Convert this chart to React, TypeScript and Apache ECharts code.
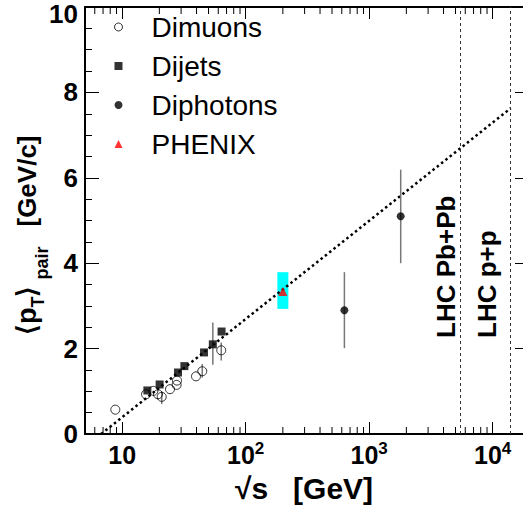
import React, { useEffect, useRef } from "react";
import * as echarts from "echarts";

const FONT = "'Liberation Sans', Arial, Helvetica, sans-serif";

// Data
const dimuonX = [8.8, 15.6, 17.9, 19.5, 20.9, 24.4, 27.6, 27.8, 39.6, 44.5, 63.4];
const dimuonY = [0.57, 0.93, 1.01, 0.93, 0.87, 1.05, 1.15, 1.25, 1.35, 1.47, 1.96];

const dijetX = [16.0, 20.1, 28.3, 31.9, 46.0, 54.2, 63.8];
const dijetY = [1.02, 1.16, 1.44, 1.59, 1.91, 2.1, 2.4];

const diphotonX = [630, 1800];
const diphotonY = [2.9, 5.1];

const phenixX = [200];
const phenixY = [3.34];
const phenixSysLo = [2.93];
const phenixSysHi = [3.79];

const errX = [20.9, 44.5, 54.2, 63.4, 630, 1800];
const errLo = [0.7, 1.32, 1.62, 1.72, 2.01, 4.0];
const errHi = [1.0, 1.64, 2.61, 2.14, 3.79, 6.19];

const fitX = [6.75, 14000];
const fitY = [0, 7.63];

const lhcX = [5500, 14000];
const lhcLabels = ["LHC Pb+Pb", "LHC p+p"];
const lhcLabelOffset = [-15, -24];

const xMinorTicks = [
  6, 7, 8, 9, 20, 30, 40, 50, 60, 70, 80, 90, 200, 300, 400, 500, 600, 700, 800, 900,
  2000, 3000, 4000, 5000, 6000, 7000, 8000, 9000,
];

const legendNames = ["Dimuons", "Dijets", "Diphotons", "PHENIX"];

export default function App() {
  const ref = useRef<HTMLDivElement>(null);

  useEffect(() => {
    if (!ref.current) return;
    const chart = echarts.init(ref.current, undefined, { renderer: "svg" });

    const axisLineStyle = { color: "#000", width: 2 };
    const tickStyle = { color: "#000", width: 1 };
    const X_MIN = 5;
    const X_MAX = 17600;
    const yLabelStyle = { fontFamily: FONT, fontSize: 26, fontWeight: "bold", color: "#000" };

    const option: any = {
      animation: false,
      grid: { left: 85, right: 0, top: 7, bottom: 79, containLabel: false },
      legend: {
        orient: "vertical",
        left: 109,
        top: 8,
        itemWidth: 8,
        itemHeight: 8,
        itemGap: 11,
        selectedMode: false,
        textStyle: {
          fontFamily: FONT,
          fontSize: 28,
          color: "#000",
          lineHeight: 25,
          padding: [0, 0, 0, 24],
        },
        data: [
          {
            name: legendNames[0],
            icon: "circle",
            itemStyle: { color: "rgba(0,0,0,0)", borderColor: "#000", borderWidth: 1 },
          },
          { name: legendNames[1], icon: "rect", itemStyle: { color: "#000" } },
          { name: legendNames[2], icon: "circle", itemStyle: { color: "#000" } },
          { name: legendNames[3], icon: "triangle", itemStyle: { color: "#ff0000" } },
        ],
      },
      xAxis: [
        {
          type: "log",
          logBase: 10,
          min: X_MIN,
          max: X_MAX,
          position: "bottom",
          name: "\u221As   [GeV]",
          nameLocation: "middle",
          nameGap: 39,
          nameTextStyle: { fontFamily: FONT, fontSize: 30, fontWeight: "bold", color: "#000" },
          axisLine: { show: true, onZero: false, lineStyle: axisLineStyle },
          axisTick: { show: true, inside: true, length: 12, lineStyle: tickStyle },
          minorTick: { show: false },
          splitLine: { show: false },
          axisLabel: {
            showMinLabel: false,
            showMaxLabel: false,
            margin: 6,
            formatter: (v: number) => {
              const e = Math.round(Math.log10(v));
              return e === 1 ? "{b|10}" : `{b|10}{s|${e}}`;
            },
            rich: {
              b: {
                fontFamily: FONT,
                fontSize: 25,
                fontWeight: "bold",
                color: "#000",
                lineHeight: 27,
                verticalAlign: "bottom",
              },
              s: {
                fontFamily: FONT,
                fontSize: 17,
                fontWeight: "bold",
                color: "#000",
                verticalAlign: "top",
              },
            },
          },
        },
        {
          type: "log",
          logBase: 10,
          min: X_MIN,
          max: X_MAX,
          position: "top",
          axisLine: { show: true, onZero: false, lineStyle: axisLineStyle },
          axisTick: { show: true, inside: true, length: 12, lineStyle: tickStyle },
          minorTick: { show: false },
          splitLine: { show: false },
          axisLabel: { show: false },
        },
      ],
      yAxis: [
        {
          type: "value",
          min: 0,
          max: 10,
          interval: 2,
          axisLine: { show: true, onZero: false, lineStyle: axisLineStyle },
          axisTick: { show: true, inside: true, length: 14, lineStyle: tickStyle },
          minorTick: { show: true, splitNumber: 4, length: 7, lineStyle: tickStyle },
          splitLine: { show: false },
          axisLabel: {
            margin: 7,
            formatter: (v: number) => (v === 10 ? `{t|${v}}` : `{n|${v}}`),
            rich: {
              n: { ...yLabelStyle },
              t: { ...yLabelStyle, verticalAlign: "top", padding: [14, 0, 0, 0] },
            },
          },
        },
        {
          type: "value",
          min: 0,
          max: 10,
          interval: 2,
          position: "right",
          axisLine: { show: false, onZero: false },
          axisTick: { show: true, inside: true, length: 8, lineStyle: tickStyle },
          minorTick: { show: false },
          splitLine: { show: false },
          axisLabel: { show: false },
        },
      ],
      series: [
        {
          type: "custom",
          name: "PHENIX sys",
          silent: true,
          z: 1,
          data: phenixX.map((x, i) => [x, phenixSysLo[i], phenixSysHi[i]]),
          renderItem: (_p: any, api: any) => {
            const lo = api.coord([api.value(0), api.value(1)]);
            const hi = api.coord([api.value(0), api.value(2)]);
            return {
              type: "rect",
              shape: { x: lo[0] - 5.5, y: hi[1], width: 11, height: lo[1] - hi[1] },
              style: { fill: "#00ffff" },
            };
          },
        },
        {
          type: "line",
          name: "fit",
          silent: true,
          z: 2,
          data: fitX.map((x, i) => [x, fitY[i]]),
          symbol: "none",
          lineStyle: { color: "#000", width: 2.5, type: [2.5, 3] },
          markLine: {
            silent: true,
            symbol: "none",
            label: { show: false },
            lineStyle: { color: "#333", width: 1, type: [3, 3] },
            data: lhcX.map((x) => ({ xAxis: x })),
          },
        },
        {
          type: "custom",
          name: "errors",
          silent: true,
          z: 3,
          data: errX.map((x, i) => [x, errLo[i], errHi[i]]),
          renderItem: (_p: any, api: any) => {
            const lo = api.coord([api.value(0), api.value(1)]);
            const hi = api.coord([api.value(0), api.value(2)]);
            return {
              type: "line",
              shape: { x1: lo[0], y1: lo[1], x2: hi[0], y2: hi[1] },
              style: { stroke: "#777", lineWidth: 1.5 },
            };
          },
        },
        {
          type: "scatter",
          name: "Dimuons",
          z: 4,
          symbol: "circle",
          symbolSize: 9,
          itemStyle: { color: "rgba(0,0,0,0)", borderColor: "#000", borderWidth: 1 },
          data: dimuonX.map((x, i) => [x, dimuonY[i]]),
        },
        {
          type: "scatter",
          name: "Dijets",
          z: 5,
          symbol: "rect",
          symbolSize: 8,
          itemStyle: { color: "#000" },
          data: dijetX.map((x, i) => [x, dijetY[i]]),
        },
        {
          type: "scatter",
          name: "Diphotons",
          z: 5,
          symbol: "circle",
          symbolSize: 8,
          itemStyle: { color: "#000" },
          data: diphotonX.map((x, i) => [x, diphotonY[i]]),
        },
        {
          type: "scatter",
          name: "PHENIX",
          z: 6,
          symbol: "triangle",
          symbolSize: 9,
          itemStyle: { color: "#ff0000" },
          data: phenixX.map((x, i) => [x, phenixY[i]]),
        },
        {
          type: "custom",
          name: "log minor ticks",
          silent: true,
          clip: false,
          z: 10,
          data: xMinorTicks.map((x) => [x, 0]),
          renderItem: (_p: any, api: any) => {
            const b = api.coord([api.value(0), 0]);
            const t = api.coord([api.value(0), 10]);
            return {
              type: "group",
              children: [
                {
                  type: "line",
                  shape: { x1: b[0], y1: b[1], x2: b[0], y2: b[1] - 7 },
                  style: { stroke: "#000", lineWidth: 1 },
                },
                {
                  type: "line",
                  shape: { x1: t[0], y1: t[1], x2: t[0], y2: t[1] + 7 },
                  style: { stroke: "#000", lineWidth: 1 },
                },
              ],
            };
          },
        },
      ],
    };

    chart.setOption(option);

    const labelBottom = chart.convertToPixel({ yAxisIndex: 0 }, 2.25) as number;
    const graphics: any[] = [
      {
        type: "text",
        x: 13,
        y: 335,
        rotation: Math.PI / 2,
        silent: true,
        style: {
          text: "{m|\u27E8p}{t|T}{m|\u27E9}{s|pair}{g|[GeV/c]}",
          align: "left",
          verticalAlign: "top",
          fill: "#000",
          rich: {
            m: { fontFamily: FONT, fontSize: 27, fontWeight: "bold", fill: "#000", verticalAlign: "top" },
            t: {
              fontFamily: FONT,
              fontSize: 18,
              fontWeight: "bold",
              fill: "#000",
              verticalAlign: "top",
              padding: [16, 0, 0, 0],
            },
            s: {
              fontFamily: FONT,
              fontSize: 18,
              fontWeight: "bold",
              fill: "#000",
              verticalAlign: "top",
              padding: [20, 0, 0, 6],
            },
            g: {
              fontFamily: FONT,
              fontSize: 26,
              fontWeight: "bold",
              fill: "#000",
              verticalAlign: "top",
              padding: [1, 0, 0, 20],
            },
          },
        },
      },
    ];
    lhcX.forEach((x, i) => {
      const px = chart.convertToPixel({ xAxisIndex: 0 }, x) as number;
      graphics.push({
        type: "text",
        x: px + lhcLabelOffset[i],
        y: labelBottom,
        rotation: Math.PI / 2,
        silent: true,
        style: {
          text: lhcLabels[i],
          align: "left",
          verticalAlign: "middle",
          fill: "#000",
          font: `bold 26px ${FONT}`,
        },
      });
    });
    chart.setOption({ graphic: graphics });

    return () => chart.dispose();
  }, []);

  return (
    <div
      ref={ref}
      style={{ position: "absolute", left: 0, top: 0, width: 523, height: 513, background: "#fff" }}
    />
  );
}
